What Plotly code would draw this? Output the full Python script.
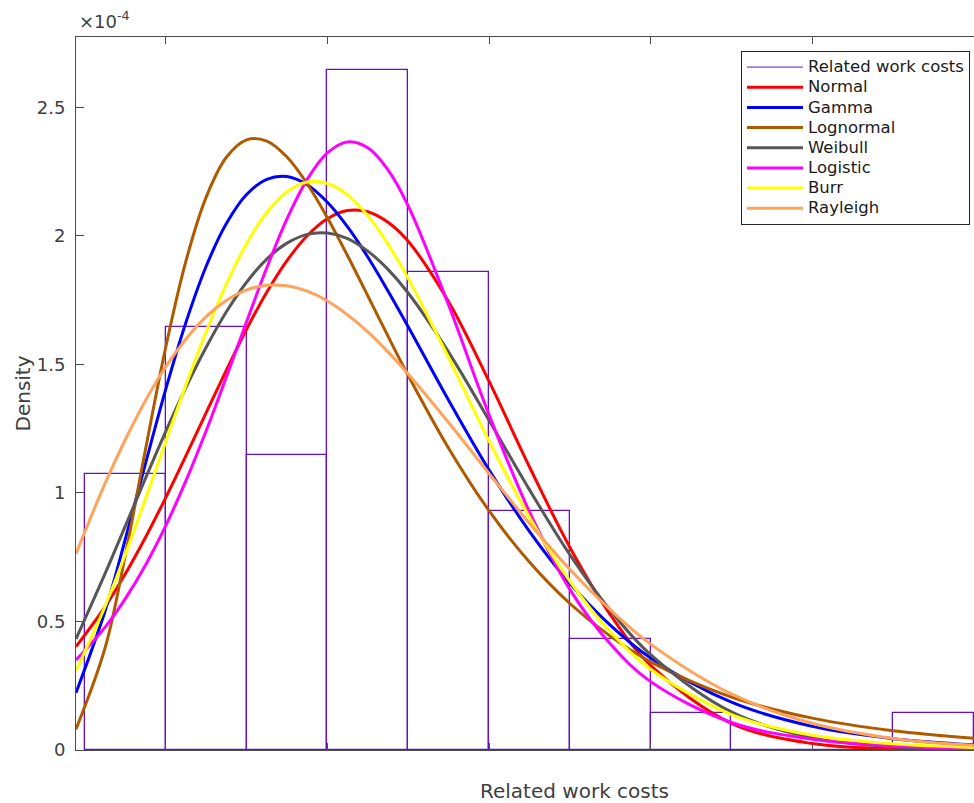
import plotly.graph_objects as go

# ---------------- data ----------------
# histogram (density, in units of 1e-4), bin width 1000
bin_centers = [1500, 2500, 3500, 4500, 5500, 6500, 7500, 8500, 9500, 10500, 11500]
bin_heights = [1.075, 1.647, 1.147, 2.647, 1.860, 0.930, 0.430, 0.143, 0.0, 0.0, 0.143]
bin_width = 1000

# fitted density curves (units of 1e-4)
x_grid = [889, 1250, 1500, 1750, 2000, 2250, 2500, 2750, 3000, 3250, 3500, 3750, 4000,
          4250, 4500, 4750, 5000, 5500, 6000, 6500, 7000, 7500, 8000, 9000, 10000, 11000, 12000]

normal = [0.402, 0.558, 0.686, 0.828, 0.982, 1.145, 1.313, 1.478, 1.637, 1.781, 1.904, 2.001, 2.067,
          2.099, 2.094, 2.053, 1.979, 1.744, 1.435, 1.102, 0.789, 0.527, 0.329, 0.104, 0.025, 0.0045, 0.0006]
gamma = [0.223, 0.542, 0.821, 1.116, 1.404, 1.664, 1.882, 2.048, 2.161, 2.220, 2.231, 2.199, 2.131,
         2.035, 1.918, 1.786, 1.647, 1.361, 1.090, 0.851, 0.649, 0.486, 0.358, 0.186, 0.092, 0.044, 0.020]
lognormal = [0.081, 0.398, 0.759, 1.171, 1.568, 1.903, 2.151, 2.306, 2.374, 2.369, 2.307, 2.203, 2.071,
             1.923, 1.767, 1.610, 1.457, 1.174, 0.931, 0.731, 0.570, 0.443, 0.343, 0.206, 0.124, 0.075, 0.046]
weibull = [0.432, 0.687, 0.872, 1.058, 1.240, 1.411, 1.567, 1.705, 1.820, 1.910, 1.972, 2.006, 2.011,
           1.990, 1.941, 1.870, 1.778, 1.548, 1.283, 1.013, 0.760, 0.544, 0.371, 0.148, 0.048, 0.013, 0.003]
logistic = [0.350, 0.478, 0.589, 0.720, 0.873, 1.048, 1.242, 1.451, 1.666, 1.876, 2.066, 2.220, 2.323,
            2.366, 2.343, 2.257, 2.117, 1.731, 1.305, 0.927, 0.625, 0.413, 0.266, 0.107, 0.042, 0.016, 0.006]
burr = [0.309, 0.560, 0.762, 0.978, 1.200, 1.420, 1.627, 1.813, 1.970, 2.091, 2.172, 2.210, 2.204,
        2.160, 2.079, 1.968, 1.835, 1.526, 1.203, 0.906, 0.657, 0.460, 0.314, 0.138, 0.057, 0.024, 0.010]
rayleigh = [0.764, 1.038, 1.208, 1.360, 1.491, 1.599, 1.686, 1.749, 1.790, 1.808, 1.806, 1.785, 1.747,
            1.693, 1.627, 1.549, 1.463, 1.274, 1.076, 0.882, 0.703, 0.546, 0.412, 0.218, 0.104, 0.045, 0.018]

series_names = ["Normal", "Gamma", "Lognormal", "Weibull", "Logistic", "Burr", "Rayleigh"]
series_values = [normal, gamma, lognormal, weibull, logistic, burr, rayleigh]
series_colors = ["#ff0000", "#0000ff", "#b05a00", "#575757", "#ff00ff", "#ffff00", "#ffa35a"]

y_tick_vals = [0, 0.5, 1, 1.5, 2, 2.5]
y_tick_text = ["0", "0.5", "1", "1.5", "2", "2.5"]

hist_color = "#6410c4"
FONT = "DejaVu Sans"
TEXT = "#404040"
AXIS = "#4d4d4d"
LEG_TEXT = 16.5


def leg_name(s):
    return f'<span style="font-size:{LEG_TEXT}px">{s}</span>'


fig = go.Figure()

fig.add_trace(go.Bar(
    x=bin_centers, y=bin_heights, width=[bin_width] * len(bin_centers),
    marker=dict(color="rgba(0,0,0,0)", line=dict(color=hist_color, width=1.3)),
    showlegend=False, hoverinfo="skip"))

fig.add_trace(go.Scatter(x=[None], y=[None], mode="lines", name=leg_name("Related work costs"),
                         line=dict(color=hist_color, width=1)))

for name, vals, col in zip(series_names, series_values, series_colors):
    fig.add_trace(go.Scatter(x=x_grid, y=vals, mode="lines", name=leg_name(name),
                             line=dict(color=col, width=3, shape="spline", smoothing=1.0)))

W, H = 974, 803
L, R, T, B = 76, 0, 37, 53
pw, ph = W - L - R, H - T - B


def px_x(p):
    return (p - L) / pw


def px_y(p):
    return (H - B - p) / ph


fig.update_layout(
    width=W, height=H,
    margin=dict(l=L, r=R, t=T, b=B, pad=0),
    paper_bgcolor="white", plot_bgcolor="white",
    font=dict(family=FONT, color=TEXT),
    bargap=0,
    xaxis=dict(range=[889, 12002], tick0=2000, dtick=2000, showticklabels=False,
               ticks="inside", ticklen=7, tickcolor=AXIS, showline=True, linecolor=AXIS,
               linewidth=1, mirror="ticks", showgrid=False, zeroline=False),
    yaxis=dict(range=[0, 2.774], tickvals=y_tick_vals, ticktext=y_tick_text,
               ticks="inside", ticklen=8, tickcolor=AXIS, showline=True, linecolor=AXIS,
               linewidth=1, mirror=False, showgrid=False, zeroline=False,
               tickfont=dict(size=18, color=TEXT, family=FONT), ticklabelstandoff=6),
    legend=dict(x=px_x(970), y=px_y(51), xanchor="right", yanchor="top",
                bgcolor="white", bordercolor="#262626", borderwidth=1,
                font=dict(size=13.2, family=FONT, color="#1a1a1a"),
                tracegroupgap=0, itemwidth=56),
    annotations=[
        dict(text="Related work costs", x=px_x(574), y=px_y(791), xref="paper", yref="paper",
             xanchor="center", yanchor="middle", showarrow=False,
             font=dict(size=20, family=FONT, color=TEXT)),
        dict(text="Density", x=px_x(22), y=0.5, xref="paper", yref="paper", textangle=-90,
             xanchor="center", yanchor="middle", showarrow=False,
             font=dict(size=20, family=FONT, color=TEXT)),
        dict(text="×10<sup>-4</sup>", x=px_x(77), y=px_y(34), xref="paper", yref="paper",
             xanchor="left", yanchor="bottom", showarrow=False,
             font=dict(size=18, family=FONT, color=TEXT)),
    ],
)

fig.write_html("out.html")
